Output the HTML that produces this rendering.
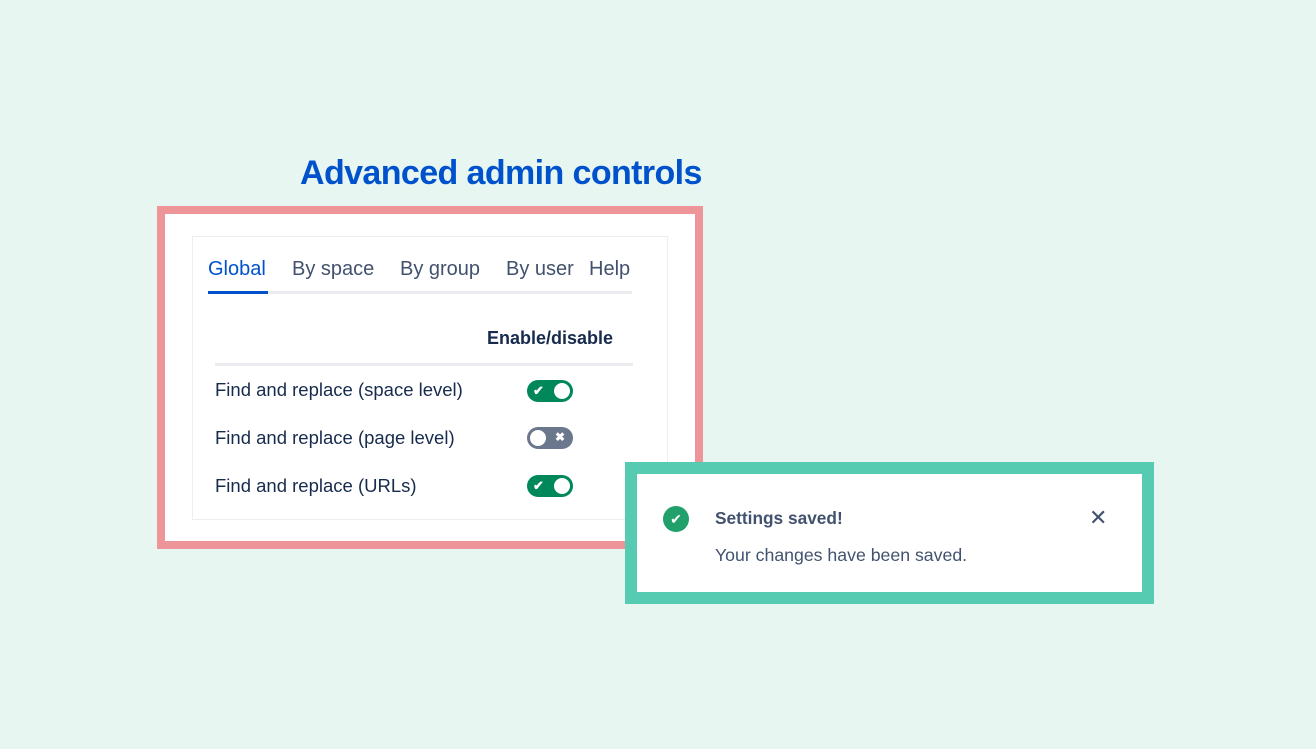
<!DOCTYPE html>
<html><head><style>
body{margin:0;width:1316px;height:749px;background:#e8f6f2;position:relative;overflow:hidden;font-family:"Liberation Sans",sans-serif;}
.a{position:absolute;}
.t{white-space:nowrap;line-height:1;}
.tog{position:absolute;width:46px;height:22px;border-radius:11px;}
.tog .k{position:absolute;top:3px;width:16px;height:16px;border-radius:50%;background:#fff;}
</style></head><body>
<div class="a t" style="left:300px;top:156px;font-size:34px;font-weight:bold;color:#0052CC;letter-spacing:-0.6px">Advanced admin controls</div>
<div class="a" style="left:157px;top:206px;width:530px;height:327px;border:8px solid #ee9599;background:#fff"></div>
<div class="a" style="left:192px;top:236px;width:474px;height:282px;border:1px solid #eceef1;background:#fff"></div>
<div class="a t" style="left:208px;top:259px;font-size:20px;color:#0052CC">Global</div>
<div class="a t" style="left:292px;top:259px;font-size:20px;color:#42526E">By space</div>
<div class="a t" style="left:400px;top:259px;font-size:20px;color:#42526E">By group</div>
<div class="a t" style="left:506px;top:259px;font-size:20px;color:#42526E">By user</div>
<div class="a t" style="left:589px;top:259px;font-size:20px;color:#42526E">Help</div>
<div class="a" style="left:208px;top:291px;width:424px;height:3px;background:#ebecf0"></div>
<div class="a" style="left:208px;top:291px;width:60px;height:3px;background:#0052CC"></div>
<div class="a t" style="left:487px;top:329px;font-size:18px;font-weight:bold;color:#172B4D">Enable/disable</div>
<div class="a" style="left:215px;top:363px;width:418px;height:3px;background:#ebecf0"></div>
<div class="a t" style="left:215px;top:381px;font-size:18.5px;color:#172B4D">Find and replace (space level)</div>
<div class="a t" style="left:215px;top:429px;font-size:18.5px;color:#172B4D">Find and replace (page level)</div>
<div class="a t" style="left:215px;top:477px;font-size:18.5px;color:#172B4D">Find and replace (URLs)</div>
<div class="tog" style="left:527px;top:380px;background:#00875A"><span class="a" style="left:6px;top:3px;color:#fff;font-size:13px;font-weight:bold">✔</span><div class="k" style="left:27px"></div></div>
<div class="tog" style="left:527px;top:427px;background:#6B778C"><div class="k" style="left:3px"></div><span class="a" style="left:28px;top:3px;color:#fff;font-size:12px;font-weight:bold">✖</span></div>
<div class="tog" style="left:527px;top:475px;background:#00875A"><span class="a" style="left:6px;top:3px;color:#fff;font-size:13px;font-weight:bold">✔</span><div class="k" style="left:27px"></div></div>
<div class="a" style="left:625px;top:462px;width:505px;height:118px;border:12px solid #57cbb2;background:#fff"></div>
<div class="a" style="left:663px;top:506px;width:26px;height:26px;border-radius:50%;background:#22a06b;color:#fff;font-size:14px;text-align:center;line-height:26px">✔</div>
<div class="a t" style="left:715px;top:510px;font-size:17.3px;font-weight:bold;color:#42526E">Settings saved!</div>
<div class="a t" style="left:715px;top:547px;font-size:17.7px;color:#42526E">Your changes have been saved.</div>
<div class="a t" style="left:1089px;top:507px;font-size:22px;color:#42526E">✕</div>
</body></html>
